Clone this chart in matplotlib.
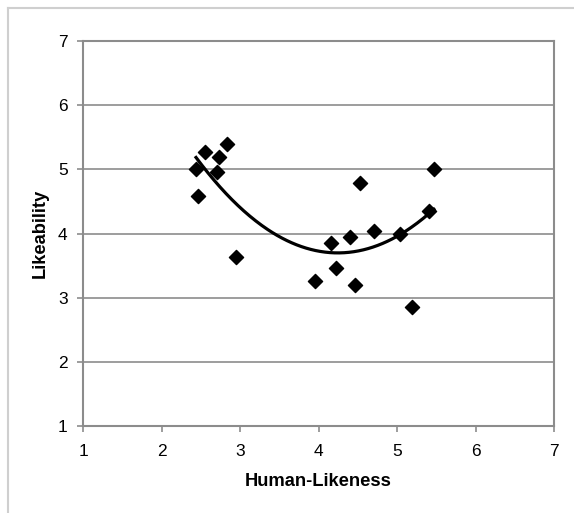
import numpy as np
import matplotlib
matplotlib.use('Agg')
import matplotlib.pyplot as plt
from matplotlib.lines import Line2D

plt.rcParams['font.family'] = ['Liberation Sans', 'DejaVu Sans']

# data
human_likeness = [2.44, 2.46, 2.55, 2.73, 2.71, 2.83, 2.95, 3.96, 4.16, 4.22,
                  4.40, 4.46, 4.53, 4.71, 5.04, 5.19, 5.41, 5.47]
likeability = [5.01, 4.59, 5.27, 5.19, 4.96, 5.40, 3.63, 3.26, 3.85, 3.46,
               3.95, 3.20, 4.79, 4.04, 3.99, 2.86, 4.35, 5.01]
ticks = [1, 2, 3, 4, 5, 6, 7]

grey = '#8c8c8c'

fig = plt.figure(figsize=(5.74, 5.13), dpi=100)
# chart frame: only top and left edges show in the picture
fig.lines.append(Line2D([8/574, 1], [1-8/513, 1-8/513], transform=fig.transFigure,
                        color='#cfcfcf', linewidth=1.5))
fig.lines.append(Line2D([8/574, 8/574], [0, 1-8/513], transform=fig.transFigure,
                        color='#cfcfcf', linewidth=1.5))
ax = fig.add_axes([83/574, 1-426/513, 471/574, 385/513])

ax.scatter(human_likeness, likeability, marker='D', s=52, color='black', zorder=3)

# polynomial (order 2) trend line, like the spreadsheet's
coef = np.polyfit(human_likeness, likeability, 2)
xs = np.linspace(min(human_likeness), max(human_likeness), 200)
ax.plot(xs, np.polyval(coef, xs), color='black', linewidth=2.3, zorder=2)

ax.set_xlim(1, 7)
ax.set_ylim(1, 7)
ax.set_xticks(ticks)
ax.set_yticks(ticks)
ax.yaxis.grid(True, color=grey, linewidth=1.2)
ax.set_axisbelow(True)
for s in ax.spines.values():
    s.set_color(grey)
    s.set_linewidth(1.5)
ax.tick_params(colors=grey, labelcolor='black', labelsize=12.5, length=4, width=1.2)
ax.tick_params(axis='x', pad=9)
ax.tick_params(axis='y', pad=7)
ax.set_xlabel('Human-Likeness', fontsize=13.2, fontweight='bold', labelpad=10)
ax.set_ylabel('Likeability', fontsize=13.2, fontweight='bold', labelpad=6.5)

fig.savefig('out.png', dpi=100)
